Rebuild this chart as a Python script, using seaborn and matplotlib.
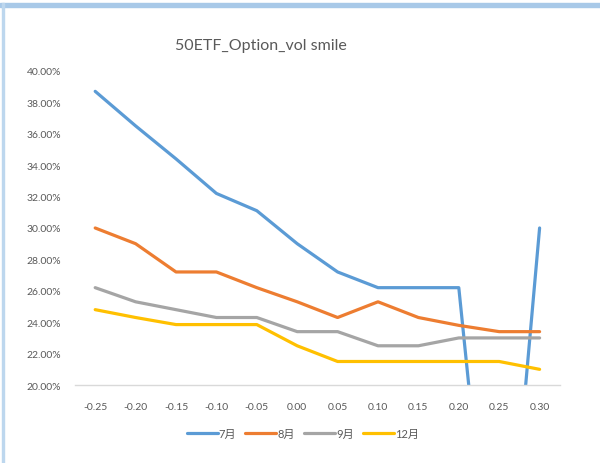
import pandas as pd
import matplotlib
matplotlib.use("Agg")
import matplotlib.pyplot as plt
import seaborn as sns
from matplotlib.patches import Rectangle
from matplotlib.ticker import PercentFormatter

# Dane
strikes = ["-0.25", "-0.20", "-0.15", "-0.10", "-0.05", "0.00",
           "0.05", "0.10", "0.15", "0.20", "0.25", "0.30"]
vol_jul = [38.7, 36.5, 34.4, 32.2, 31.1, 29.0, 27.2, 26.2, 26.2, 26.2, 1.0, 30.0]
vol_aug = [30.0, 29.0, 27.2, 27.2, 26.2, 25.3, 24.3, 25.3, 24.3, 23.8, 23.4, 23.4]
vol_sep = [26.2, 25.3, 24.8, 24.3, 24.3, 23.4, 23.4, 22.5, 22.5, 23.0, 23.0, 23.0]
vol_dec = [24.8, 24.3, 23.85, 23.85, 23.85, 22.5, 21.5, 21.5, 21.5, 21.5, 21.5, 21.0]
months = ["7月", "8月", "9月", "12月"]
colors = ["#5B9BD5", "#ED7D31", "#A5A5A5", "#FFC000"]

df = pd.concat([
    pd.DataFrame({"strike": strikes, "vol": [v / 100 for v in vals], "month": m})
    for m, vals in zip(months, [vol_jul, vol_aug, vol_sep, vol_dec])
])

sns.set_theme(style="white")
plt.rcParams["font.family"] = ["Lato", "Noto Sans CJK SC", "DejaVu Sans"]
grey = "#595959"

fig = plt.figure(figsize=(6, 4.64), dpi=100)
ax = fig.add_axes([0.125, 0.168, 0.808, 0.677])

sns.lineplot(data=df, x="strike", y="vol", hue="month", hue_order=months,
             palette=colors, linewidth=2.3, sort=False, ax=ax)

ax.set_xlim(-0.5, len(strikes) - 0.5)
ax.set_ylim(0.20, 0.40)
ax.set_yticks([0.20 + 0.02 * i for i in range(11)])
ax.yaxis.set_major_formatter(PercentFormatter(1.0, decimals=2))
ax.set_xlabel("")
ax.set_ylabel("")
ax.tick_params(axis="both", labelsize=7.5, colors=grey, length=0, pad=12)
ax.tick_params(axis="y", pad=10)
for s in ["top", "right", "left"]:
    ax.spines[s].set_visible(False)
ax.spines["bottom"].set_color("#D9D9D9")
ax.spines["bottom"].set_linewidth(1)

fig.text(0.434, 0.900, "50ETF_Option_vol smile", ha="center", va="center",
         fontsize=11.5, color=grey)

leg = ax.legend(loc="center", bbox_to_anchor=(0.47, -0.153), ncol=4,
                frameon=False, fontsize=8, handlelength=2.8, handletextpad=0.1,
                columnspacing=0.8)
for t in leg.get_texts():
    t.set_color(grey)
for line in leg.get_lines():
    line.set_linewidth(2.3)

# Ramka wykresu w stylu Excela
fig.patches.append(Rectangle((0, 1 - 7.5 / 464), 1, 3.5 / 464, transform=fig.transFigure,
                             color="#A8C9E8", zorder=0))
fig.patches.append(Rectangle((2 / 600, 0), 2 / 600, 1 - 4 / 464, transform=fig.transFigure,
                             color="#BDD7EE", zorder=0))

fig.savefig("out.png", dpi=100)
